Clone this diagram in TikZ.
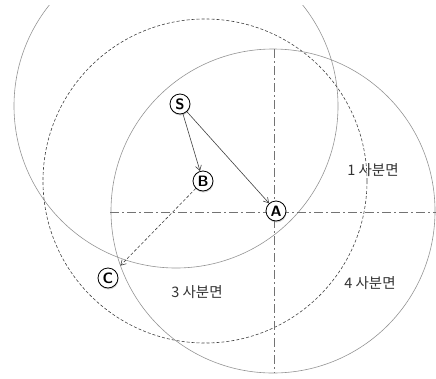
\documentclass[tikz,border=0pt]{standalone}
\usepackage{fontspec}
\newfontfamily\kr{Noto Sans CJK KR}[Scale=1]
\usetikzlibrary{arrows.meta,shadows}
\begin{document}
\begin{tikzpicture}[x=1pt,y=-1pt,
  bigcirc/.style={draw=black!42,line width=0.6pt},
  dashcirc/.style={draw=black!75,line width=0.6pt,dash pattern=on 3pt off 2pt},
  axis/.style={draw=black!55,line width=0.8pt,dash pattern=on 9pt off 3pt on 2pt off 3pt},
  pt/.style={circle,draw=black,line width=0.8pt,fill=white,minimum size=20pt,inner sep=0pt,
     font=\sffamily\bfseries\fontsize{15}{15}\selectfont,
     drop shadow={shadow xshift=0.5pt,shadow yshift=-1.5pt,opacity=0.35}},
  arr/.style={draw=black!75,line width=0.6pt,-{Straight Barb[length=5pt,width=6pt]}},
  lbl/.style={font=\kr\fontsize{14.5}{14.5}\selectfont,text=black!80}]
\useasboundingbox (0,0) rectangle (436,378);
\clip (0,5) rectangle (436,378);
\draw[bigcirc] (176,106) circle (162);
\draw[dashcirc] (205,181) circle (162);
\draw[bigcirc] (273,211) circle (162);
\coordinate (vt) at (274,49);
\coordinate (vb) at (274,373);
\coordinate (hl) at (110,212);
\coordinate (hr) at (436,212);
\draw[axis] (vt) -- (vb);
\draw[axis] (hl) -- (hr);
\node[pt] (S) at (180,104) {S};
\node[pt] (B) at (203,181) {B};
\node[pt] (A) at (276,211) {A};
\node[pt] (C) at (108,278) {C};
\draw[arr] (S) -- (B);
\draw[arr] (S) -- (A);
\draw[arr,dash pattern=on 3pt off 2pt] (B) -- ([shift={(5,-5)}]C.north east);
\node[lbl] (q1) at (373,170) {1 사분면};
\node[lbl] (q4) at (370,283) {4 사분면};
\node[lbl] (q3) at (197,292) {3 사분면};
\end{tikzpicture}
\end{document}
